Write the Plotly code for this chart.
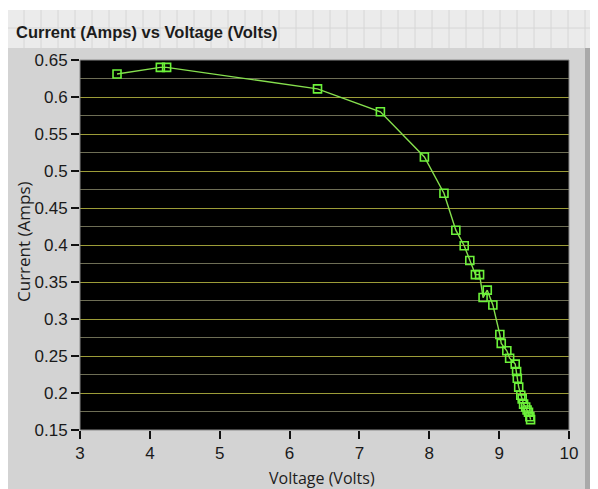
import plotly.graph_objects as go

# Data (order of acquisition)
voltage = [3.53, 4.15, 4.24, 6.40, 7.30, 7.93, 8.21, 8.38, 8.50, 8.58, 8.66, 8.72,
           8.77, 8.83, 8.91, 9.01, 9.03, 9.11, 9.15, 9.23, 9.25, 9.26, 9.28, 9.31,
           9.33, 9.35, 9.38, 9.40, 9.42, 9.44, 9.45]
current = [0.631, 0.640, 0.640, 0.611, 0.580, 0.519, 0.470, 0.420, 0.399, 0.379, 0.360, 0.360,
           0.329, 0.339, 0.319, 0.279, 0.267, 0.257, 0.247, 0.239, 0.229, 0.220, 0.208, 0.197,
           0.192, 0.185, 0.181, 0.177, 0.174, 0.168, 0.164]

x_ticks = [3, 4, 5, 6, 7, 8, 9, 10]
y_ticks = [0.15, 0.2, 0.25, 0.3, 0.35, 0.4, 0.45, 0.5, 0.55, 0.6, 0.65]
y_tick_text = ["0.15", "0.2", "0.25", "0.3", "0.35", "0.4", "0.45", "0.5", "0.55", "0.6", "0.65"]

title_text = "Current (Amps) vs Voltage (Volts)"
x_title = "Voltage (Volts)"
y_title = "Current (Amps)"

# page body has an 8px margin; figure coordinates are page coordinates minus OFF
OFF = 8
PAGE_W, PAGE_H = 598, 489
W, H = PAGE_W - OFF, PAGE_H - OFF
L, R, T, B = 80 - OFF, 29, 60 - OFF, 59
PW, PH = W - L - R, H - T - B


def px(X):
    return (X - OFF - L) / PW


def py(Y):
    return (H - B - (Y - OFF)) / PH


FONT = "Liberation Sans, Arial, sans-serif"

fig = go.Figure()
fig.add_trace(go.Scatter(
    x=voltage, y=current, mode="lines+markers",
    line=dict(color="#86e04e", width=1.4),
    marker=dict(symbol="square-open", size=8, color="#6cf23a", line=dict(width=1.6, color="#6cf23a")),
    showlegend=False, hoverinfo="x+y",
))

shapes = []
# light front-panel strip at top
shapes.append(dict(type="rect", xref="paper", yref="paper", x0=px(OFF), x1=px(PAGE_W), y0=py(48), y1=py(OFF),
                   fillcolor="#ebebeb", line=dict(width=0), layer="below"))
for k in range(36):
    gx = 7 + 17 * k
    if gx <= OFF or gx >= PAGE_W:
        continue
    shapes.append(dict(type="line", xref="paper", yref="paper", x0=px(gx), x1=px(gx), y0=py(48), y1=py(10),
                       line=dict(color="#d6d6d6", width=1), layer="below"))
shapes.append(dict(type="line", xref="paper", yref="paper", x0=px(OFF), x1=px(PAGE_W), y0=py(28), y1=py(28),
                   line=dict(color="#d6d6d6", width=1), layer="below"))
shapes.append(dict(type="rect", xref="paper", yref="paper", x0=px(OFF), x1=px(PAGE_W), y0=py(10), y1=py(OFF),
                   fillcolor="#ffffff", line=dict(width=0), layer="below"))
# right dark frame edge
shapes.append(dict(type="rect", xref="paper", yref="paper", x0=px(585), x1=px(593), y0=py(PAGE_H), y1=py(48),
                   fillcolor="#a9a9a9", line=dict(width=0), layer="below"))
shapes.append(dict(type="rect", xref="paper", yref="paper", x0=px(593), x1=px(PAGE_W), y0=py(PAGE_H), y1=py(48),
                   fillcolor="#bdbdbd", line=dict(width=0), layer="below"))
# plot border
shapes.append(dict(type="rect", xref="paper", yref="paper", x0=0, x1=1, y0=0, y1=1,
                   line=dict(color="#8a8a8a", width=1), layer="above"))

fig.update_layout(
    width=W, height=H,
    margin=dict(l=L, r=R, t=T, b=B, pad=0),
    paper_bgcolor="#d3d3d3",
    plot_bgcolor="#000000",
    shapes=shapes,
    annotations=[
        dict(text=title_text, xref="paper", yref="paper", x=px(14), y=py(32), xanchor="left", yanchor="middle",
             showarrow=False, font=dict(family="Liberation Sans, Arial, sans-serif", size=16.5, color="#1c1c1c", weight="bold")),
        dict(text=x_title, xref="paper", yref="paper", x=px(322), y=py(478), xanchor="center", yanchor="middle",
             showarrow=False, font=dict(family="Open Sans, sans-serif", size=16, color="#1c1c1c")),
        dict(text=y_title, xref="paper", yref="paper", x=px(23), y=py(242), xanchor="center", yanchor="middle",
             textangle=-90, showarrow=False, font=dict(family="Open Sans, sans-serif", size=17, color="#1c1c1c")),
    ],
    xaxis=dict(
        range=[3, 10], tickvals=x_ticks, ticktext=[str(v) for v in x_ticks],
        showgrid=False, zeroline=False, showline=False,
        ticks="outside", ticklen=8, tickwidth=1.5, tickcolor="#111111",
        tickfont=dict(family=FONT, size=17, color="#1a1a1a"),
        fixedrange=True,
    ),
    yaxis=dict(
        range=[0.15, 0.65], tickvals=y_ticks, ticktext=y_tick_text,
        showgrid=True, gridcolor="#9c9c38", gridwidth=1.2,
        minor=dict(dtick=0.025, tick0=0.15, showgrid=True, gridcolor="#6e6e55", gridwidth=1.2, ticks=""),
        zeroline=False, showline=False,
        ticks="outside", ticklen=8, tickwidth=1.5, tickcolor="#111111",
        tickfont=dict(family=FONT, size=17, color="#1a1a1a"),
        fixedrange=True,
    ),
)

fig.write_html("out.html")
